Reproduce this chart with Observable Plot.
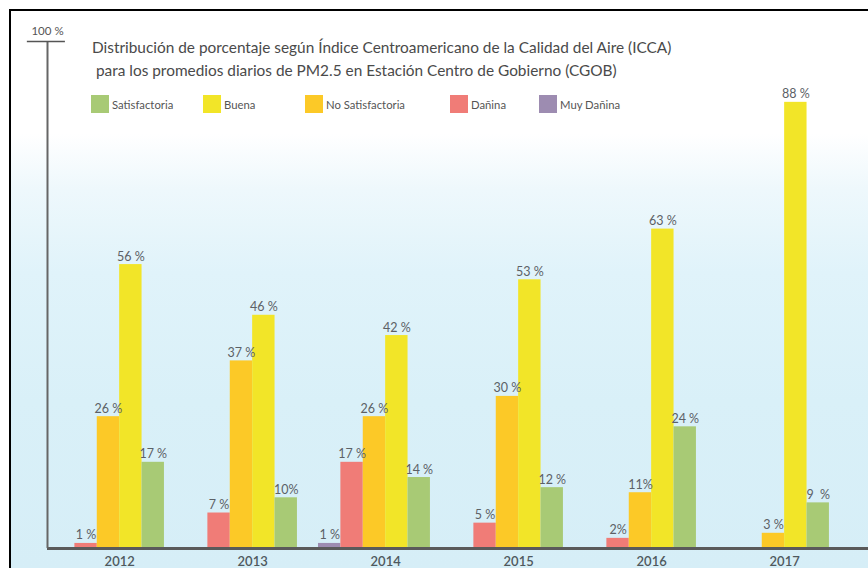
<!DOCTYPE html>
<html>
<head>
<meta charset="utf-8">
<script src="https://cdn.jsdelivr.net/npm/d3@7"></script>
<script src="https://cdn.jsdelivr.net/npm/@observablehq/plot@0.6"></script>
<style>
  html, body { margin: 0; padding: 0; background: #fff; }
  #wrap { position: relative; width: 868px; height: 568px; overflow: hidden; font-family: Lato, "Open Sans", sans-serif; }
  #bg { position: absolute; left: 9px; top: 9px; right: 0; bottom: 0;
        border-top: 2px solid #000; border-left: 2px solid #000;
        background: linear-gradient(to bottom, #ffffff 0%, #ffffff 22%, #eef8fc 32%, #e0f3fa 47%, #d9f0f8 70%, #d6eef7 100%); }
  #chart { position: absolute; left: 0; top: 0; }
  #title { position: absolute; left: 92px; top: 36px; font-size: 15.4px; line-height: 23px; color: #4a4a4a; white-space: nowrap; }
  #legend { position: absolute; left: 0; top: 95px; width: 868px; height: 20px; font-size: 11.3px; color: #555; }
  .item { position: absolute; top: 0; display: flex; align-items: center; height: 18px; }
  .sw { width: 18px; height: 18px; margin-right: 3px; }
</style>
</head>
<body>
<div id="wrap">
  <div id="bg"></div>
  <div id="chart"></div>
  <div id="title">Distribución de porcentaje según Índice Centroamericano de la Calidad del Aire (ICCA)<br>&nbsp;para los promedios diarios de PM2.5 en Estación Centro de Gobierno (CGOB)</div>
  <div id="legend"></div>
</div>
<script>
// ---- data ----
const years = ["2012", "2013", "2014", "2015", "2016", "2017"];
const categories = ["Muy Dañina", "Dañina", "No Satisfactoria", "Buena", "Satisfactoria"];
const colors = ["#9d8cb1", "#f07c77", "#fcc927", "#f2e528", "#a8ca75"];
const legendOrder = ["Satisfactoria", "Buena", "No Satisfactoria", "Dañina", "Muy Dañina"];

const muyDanina       = [null, null, 1, null, null, null];
const danina          = [1, 7, 17, 5, 2, null];
const noSatisfactoria = [26, 37, 26, 30, 11, 3];
const buena           = [56, 46, 42, 53, 63, 88];
const satisfactoria   = [17, 10, 14, 12, 24, 9];

const muyDaninaLabels       = [null, null, "1 %", null, null, null];
const daninaLabels          = ["1 %", "7 %", "17 %", "5 %", "2%", null];
const noSatisfactoriaLabels = ["26 %", "37 %", "26 %", "30 %", "11%", "3 %"];
const buenaLabels           = ["56 %", "46 %", "42 %", "53 %", "63 %", "88 %"];
const satisfactoriaLabels   = ["17 %", "10%", "14 %", "12 %", "24 %", "9  %"];
const yTopLabel = "100 %";

// ---- table ----
const series = [muyDanina, danina, noSatisfactoria, buena, satisfactoria];
const seriesLabels = [muyDaninaLabels, daninaLabels, noSatisfactoriaLabels, buenaLabels, satisfactoriaLabels];
const step = 5.94;          // group pitch in bar widths
const labelOffset = 3.0;    // year label position within group
const rows = [];
years.forEach((y, i) => {
  categories.forEach((c, k) => {
    const v = series[k][i];
    if (v != null) rows.push({year: y, category: c, value: v, label: seriesLabels[k][i], slot: i * step + k});
  });
});
const xMin = -0.223, xMax = 36.445;

const plot = Plot.plot({
  width: 868,
  height: 568,
  marginLeft: 47,
  marginRight: 0,
  marginTop: 41,
  marginBottom: 20,
  style: {background: "transparent", fontFamily: "Lato, 'Open Sans', sans-serif"},
  x: {type: "linear", domain: [xMin, xMax], axis: null},
  y: {domain: [0, 100], axis: null},
  color: {domain: categories, range: colors},
  marks: [
    Plot.rectY(rows, {x1: "slot", x2: d => d.slot + 1, y: "value", fill: "category", inset: 0}),
    Plot.text(rows, {x: d => d.slot + 0.5, y: "value", text: "label", dy: -4, lineAnchor: "bottom", fill: "#5c6166", fontSize: 12.5}),
    Plot.ruleY([0], {stroke: "#5a5a5a", strokeWidth: 3}),
    Plot.ruleX([xMin], {y1: 0, y2: 100, stroke: "#666", strokeWidth: 2}),
    Plot.ruleY([100], {x1: xMin - 0.9, x2: xMin + 0.8, stroke: "#555", strokeWidth: 1.5}),
    Plot.text([100], {x: xMin, y: d => d, text: () => yTopLabel, dy: -10, fill: "#555", fontSize: 11.5}),
    Plot.text(years, {x: (d, i) => i * step + labelOffset, y: () => 0, text: d => d, dy: 13, fill: "#4f595e", fontSize: 13, fontWeight: 600})
  ]
});
document.getElementById("chart").appendChild(plot);

// legend
const legendX = [91, 203, 305, 450, 539];
const leg = document.getElementById("legend");
legendOrder.forEach((name, i) => {
  const it = document.createElement("div");
  it.className = "item";
  it.style.left = legendX[i] + "px";
  const sw = document.createElement("div");
  sw.className = "sw";
  sw.style.background = colors[categories.indexOf(name)];
  const t = document.createElement("span");
  t.textContent = name;
  it.appendChild(sw); it.appendChild(t);
  leg.appendChild(it);
});
</script>
</body>
</html>
